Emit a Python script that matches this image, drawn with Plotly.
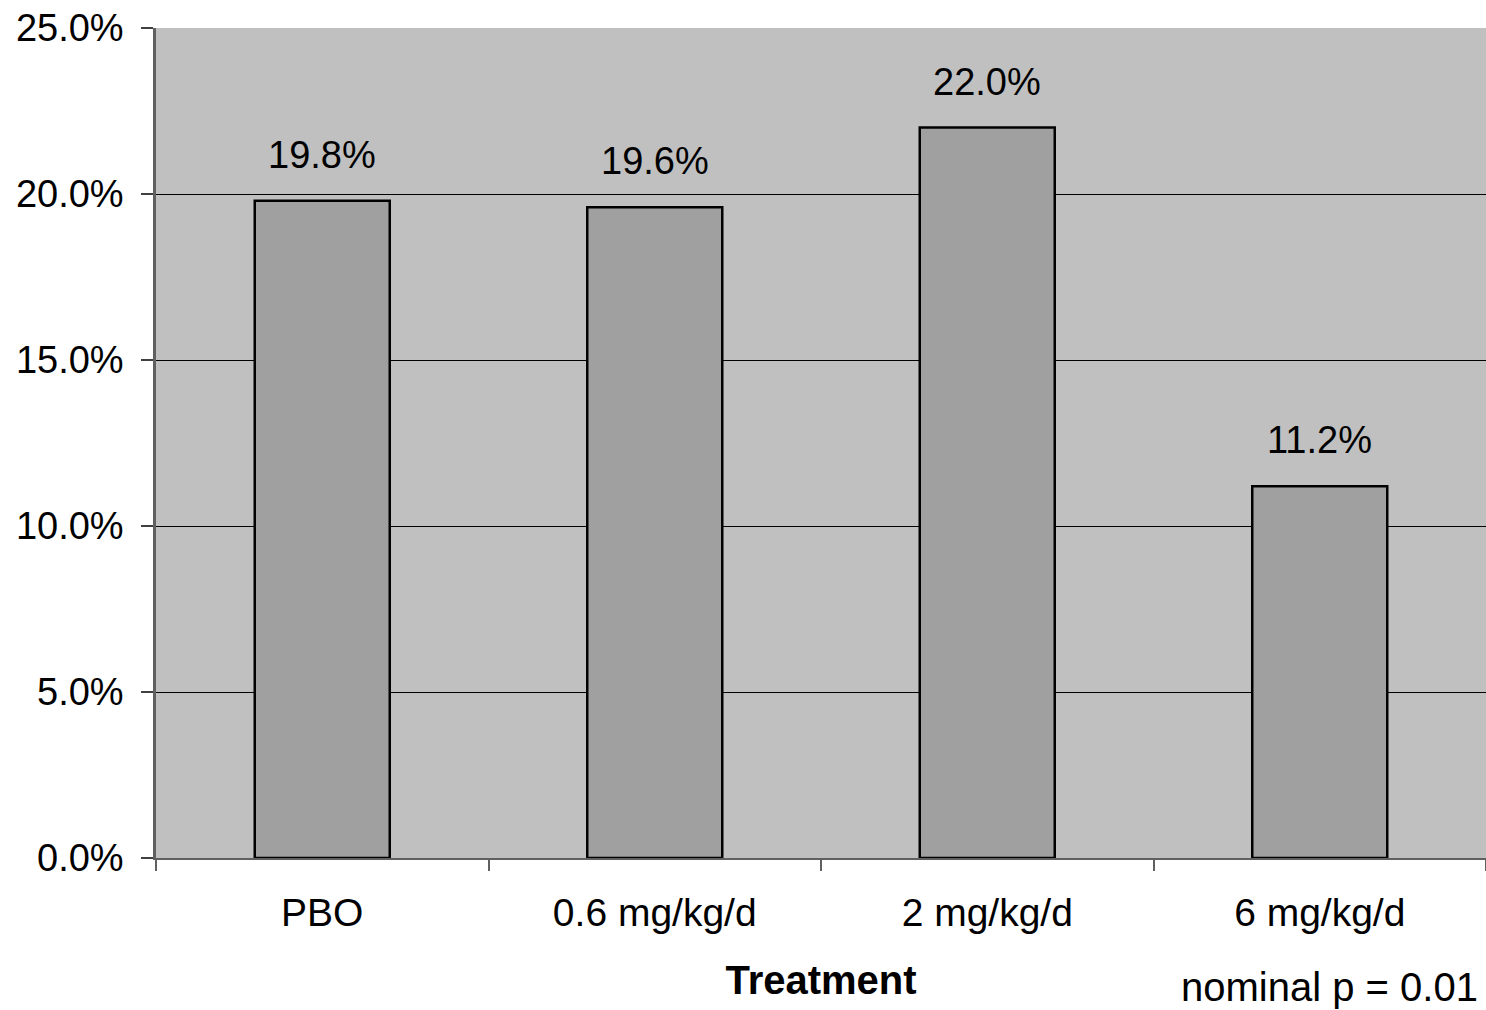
import plotly.graph_objects as go

categories = ["PBO", "0.6 mg/kg/d", "2 mg/kg/d", "6 mg/kg/d"]
values = [19.8, 19.6, 22.0, 11.2]
y_ticks = [0, 5, 10, 15, 20, 25]
y_tick_labels = ["0.0%", "5.0%", "10.0%", "15.0%", "20.0%", "25.0%"]
x_title = "Treatment"
note = "nominal p = 0.01"

FONT = "Liberation Sans, Arial, sans-serif"

fig = go.Figure()
fig.add_trace(go.Bar(
    x=categories, y=values,
    marker=dict(color="#A0A0A0", line=dict(color="black", width=2.5)),
    hoverinfo="skip",
))

for c, v in zip(categories, values):
    fig.add_annotation(
        x=c, y=v, text=f"{v:.1f}%", showarrow=False,
        yanchor="bottom", yshift=23,
        font=dict(family=FONT, size=38, color="black"),
    )

fig.add_annotation(
    xref="paper", yref="paper", x=1.0, y=0, xanchor="right", yanchor="top",
    xshift=-6, yshift=-105, text=note, showarrow=False,
    font=dict(family=FONT, size=40, color="black"),
)

fig.update_layout(
    width=1486, height=1010,
    margin=dict(l=156, r=0, t=28, b=152),
    paper_bgcolor="white", plot_bgcolor="#C0C0C0",
    bargap=0.594, showlegend=False,
    font=dict(family=FONT, size=38, color="black"),
)
fig.update_xaxes(
    type="category", tickson="boundaries", ticks="outside", ticklen=11,
    tickcolor="#606060", tickwidth=1.5,
    showline=True, linecolor="#606060", linewidth=2,
    showgrid=False, ticklabelstandoff=19,
    tickfont=dict(family=FONT, size=39),
    title=dict(text=f"<b>{x_title}</b>", font=dict(family=FONT, size=40), standoff=33),
)
fig.update_yaxes(
    range=[0, 25], tickvals=y_ticks, ticktext=y_tick_labels,
    ticks="outside", ticklen=12, tickcolor="#404040", tickwidth=1.5,
    showline=True, linecolor="#606060", linewidth=2.5,
    showgrid=True, gridcolor="black", gridwidth=1,
    zeroline=False, ticklabelstandoff=10,
    tickfont=dict(family=FONT, size=38),
)

fig.write_html(
    "out.html",
    config={"displayModeBar": False},
    post_script="document.body.style.margin='0';document.body.style.overflow='hidden';",
)
